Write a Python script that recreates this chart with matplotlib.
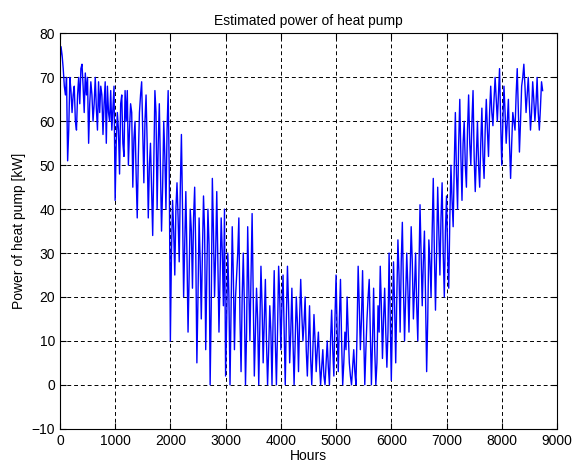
import numpy as np
import matplotlib
matplotlib.use("Agg")
import matplotlib.pyplot as plt

plt.rcParams['font.family'] = ['Liberation Sans', 'DejaVu Sans']

# estimated power, one value every 20 hours
power = [
    # 0 - 980 h
    73, 77, 75, 72, 68, 66, 70, 51, 58, 70, 67, 62, 66, 68, 60, 58, 66, 70, 64, 72, 73, 68, 62, 71, 66,
    70, 55, 64, 69, 66, 60, 64, 70, 63, 58, 69, 62, 68, 66, 57, 64, 69, 55, 68, 62, 60, 67, 58, 63, 68,
    # 1000 - 1980 h
    42, 55, 62, 58, 48, 64, 66, 55, 52, 67, 60, 67, 50, 58, 64, 62, 45, 56, 60, 48, 38, 52, 62, 66, 69,
    58, 46, 60, 66, 55, 38, 50, 55, 44, 34, 50, 67, 62, 40, 55, 64, 50, 35, 45, 60, 52, 40, 58, 67, 48,
    # 2000 - 2980 h
    10, 30, 42, 35, 25, 40, 46, 38, 28, 45, 57, 40, 20, 32, 44, 30, 12, 25, 40, 35, 22, 38, 45, 30, 5,
    20, 38, 28, 15, 30, 43, 35, 8, 25, 40, 32, 0, 18, 47, 35, 20, 30, 44, 28, 12, 25, 38, 30, 18, 40,
    # 3000 - 3980 h
    2, 15, 30, 20, 0, 18, 36, 25, 8, 20, 25, 30, 38, 15, 3, 20, 30, 18, 0, 12, 36, 22, 10, 25, 39,
    20, 2, 12, 22, 15, 0, 14, 27, 18, 5, 15, 24, 10, 0, 8, 18, 12, 0, 15, 26, 10, 0, 12, 27, 20,
    # 4000 - 4980 h
    8, 18, 25, 12, 0, 15, 27, 18, 5, 12, 22, 10, 0, 10, 20, 14, 3, 15, 24, 16, 10, 14, 20, 8, 2,
    10, 18, 6, 0, 8, 16, 10, 3, 8, 12, 5, 0, 4, 8, 2, 0, 5, 10, 4, 0, 10, 17, 8, 2, 15,
    # 5000 - 5980 h
    25, 12, 3, 15, 24, 10, 0, 5, 12, 8, 20, 12, 5, 2, 0, 4, 8, 3, 0, 12, 27, 18, 8, 15, 26,
    12, 0, 8, 15, 20, 24, 12, 0, 10, 22, 8, 0, 5, 18, 12, 27, 18, 6, 15, 22, 12, 4, 12, 30, 15,
    # 6000 - 6980 h
    1, 15, 28, 18, 5, 20, 33, 25, 12, 28, 37, 22, 10, 20, 30, 22, 12, 25, 36, 28, 15, 22, 30, 18, 10,
    25, 41, 30, 18, 28, 35, 20, 3, 15, 33, 28, 20, 35, 47, 30, 17, 30, 45, 35, 25, 38, 46, 30, 20, 35,
    # 7000 - 7980 h
    43, 30, 22, 38, 50, 42, 36, 50, 62, 48, 40, 55, 65, 52, 42, 55, 60, 50, 45, 58, 66, 55, 50, 60, 67,
    52, 44, 52, 60, 50, 45, 55, 63, 52, 47, 58, 65, 58, 52, 62, 68, 62, 59, 65, 70, 65, 60, 66, 72, 60,
    # 8000 - 8740 h
    50, 60, 68, 62, 55, 60, 65, 55, 47, 55, 62, 60, 58, 66, 72, 62, 53, 60, 68, 70, 73, 68, 62, 66, 70,
    64, 58, 62, 69, 65, 60, 64, 70, 62, 58, 63, 69, 67,
]
hours = np.arange(len(power)) * 20

xticks = [0, 1000, 2000, 3000, 4000, 5000, 6000, 7000, 8000, 9000]
yticks = [-10, 0, 10, 20, 30, 40, 50, 60, 70, 80]

fig = plt.figure(figsize=(5.76, 4.65), dpi=100)
ax = fig.add_axes([0.104, 0.078, 0.863, 0.85])

ax.plot(hours, power, color='#0000ff', linewidth=1.0)

ax.set_xlim(0, 9000)
ax.set_ylim(-10, 80)
ax.set_xticks(xticks)
ax.set_yticks(yticks)
ax.grid(True, color='black', linestyle=(0, (4, 3)), linewidth=0.7)
ax.tick_params(direction='in', top=True, right=True, labelsize=10, length=4)
for s in ax.spines.values():
    s.set_linewidth(0.8)

ax.set_title("Estimated power of heat pump", fontsize=10)
ax.set_xlabel("Hours", fontsize=10, labelpad=1)
ax.set_ylabel("Power of heat pump [kW]", fontsize=10)

fig.savefig("out.png", dpi=100)
